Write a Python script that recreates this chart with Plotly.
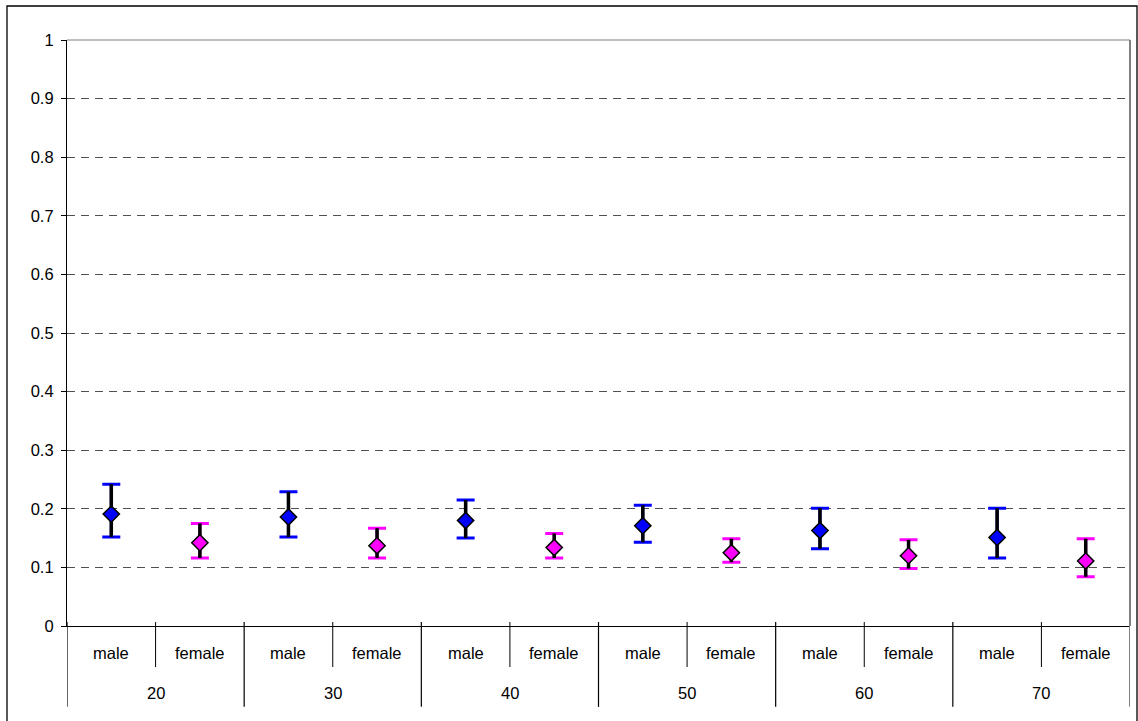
import plotly.graph_objects as go

# Age groups and sexes along the category axis
ages = ["20", "30", "40", "50", "60", "70"]
sexes = ["male", "female"]

# Point estimates with lower / upper interval bounds
male_mean = [0.191, 0.186, 0.180, 0.171, 0.163, 0.151]
male_low = [0.152, 0.152, 0.150, 0.143, 0.132, 0.116]
male_high = [0.242, 0.229, 0.215, 0.206, 0.201, 0.201]

female_mean = [0.142, 0.137, 0.134, 0.125, 0.120, 0.111]
female_low = [0.116, 0.116, 0.116, 0.109, 0.098, 0.084]
female_high = [0.175, 0.167, 0.158, 0.149, 0.147, 0.149]

y_ticks = [0, 0.1, 0.2, 0.3, 0.4, 0.5, 0.6, 0.7, 0.8, 0.9, 1]

FONT = "Liberation Sans, Arial, sans-serif"
FS = 16.5
BLUE = "#0000FF"
MAGENTA = "#FF00FF"

n = len(ages)
male_x = [2 * i for i in range(n)]
female_x = [2 * i + 1 for i in range(n)]


def err(mean, low, high):
    plus = [h - m for m, h in zip(mean, high)]
    minus = [m - l for m, l in zip(mean, low)]
    return plus, minus


fig = go.Figure()

series = [
    (male_x, male_mean, male_low, male_high, BLUE, "male"),
    (female_x, female_mean, female_low, female_high, MAGENTA, "female"),
]

# Coloured caps first
for xs, mean, low, high, col, name in series:
    plus, minus = err(mean, low, high)
    fig.add_trace(go.Scatter(
        x=xs, y=mean, mode="markers", name=name, showlegend=False,
        marker=dict(size=1, color="rgba(0,0,0,0)"),
        error_y=dict(type="data", symmetric=False, array=plus, arrayminus=minus,
                     color=col, thickness=3, width=9),
        hoverinfo="skip",
    ))

# Black stems and diamond markers on top
for xs, mean, low, high, col, name in series:
    plus, minus = err(mean, low, high)
    fig.add_trace(go.Scatter(
        x=xs, y=mean, mode="markers", name=name, showlegend=False,
        marker=dict(symbol="diamond", size=12.5, color=col,
                    line=dict(color="black", width=1.5)),
        error_y=dict(type="data", symmetric=False, array=plus, arrayminus=minus,
                     color="black", thickness=3.5, width=0),
    ))

shapes = []
annotations = []

# Category separators: short ones between sexes, long ones between age groups
for g in range(n + 1):
    xb = 2 * g - 0.5
    col = "#808080" if g == n else "black"
    shapes.append(dict(type="line", xref="x", yref="paper", x0=xb, x1=xb,
                       y0=0.0068, y1=-0.138, line=dict(color=col, width=1.2 if g < n else 2)))
for g in range(n):
    xb = 2 * g + 0.5
    shapes.append(dict(type="line", xref="x", yref="paper", x0=xb, x1=xb,
                       y0=0.0068, y1=-0.070, line=dict(color="black", width=1)))

# Category labels
for g, age in enumerate(ages):
    for s, sex in enumerate(sexes):
        annotations.append(dict(x=2 * g + s, y=-0.046, xref="x", yref="paper",
                                text=sex, showarrow=False, yanchor="middle",
                                font=dict(family=FONT, size=FS, color="black")))
    annotations.append(dict(x=2 * g + 0.5, y=-0.114, xref="x", yref="paper",
                            text=age, showarrow=False, yanchor="middle",
                            font=dict(family=FONT, size=FS, color="black")))

# Plot-area border (top and right, grey)
shapes.append(dict(type="line", xref="paper", yref="paper", x0=0, x1=1, y0=1, y1=1,
                   line=dict(color="#808080", width=1.2)))
shapes.append(dict(type="line", xref="paper", yref="paper", x0=1, x1=1, y0=0, y1=1,
                   line=dict(color="#808080", width=2)))

# Outer chart frame
shapes.append(dict(type="rect", xref="paper", yref="paper",
                   x0=(7 - 67) / 1063, x1=(1137 - 67) / 1063,
                   y0=(626 - 740) / 586, y1=(626 - 6) / 586,
                   line=dict(color="black", width=1.3), fillcolor="rgba(0,0,0,0)"))

fig.update_layout(
    width=1138, height=721,
    margin=dict(l=67, r=8, t=40, b=95),
    paper_bgcolor="white", plot_bgcolor="white",
    font=dict(family=FONT, size=FS, color="black"),
    shapes=shapes, annotations=annotations,
    showlegend=False,
)

fig.update_xaxes(
    range=[-0.5, 2 * n - 0.5], showgrid=False, zeroline=False,
    showticklabels=False, ticks="", showline=True, linecolor="black", linewidth=1.2,
    fixedrange=True,
)

fig.update_yaxes(
    range=[0, 1], tickvals=y_ticks, ticktext=[f"{v:g}" for v in y_ticks],
    showgrid=True, gridcolor="#505050", gridwidth=1, griddash="8px,6px",
    zeroline=False, showline=True, linecolor="black", linewidth=1.2,
    ticks="outside", ticklen=5, tickcolor="black", tickwidth=1,
    ticklabelstandoff=4, tickfont=dict(family=FONT, size=FS, color="black"),
    fixedrange=True,
)

fig.write_html("out.html")
